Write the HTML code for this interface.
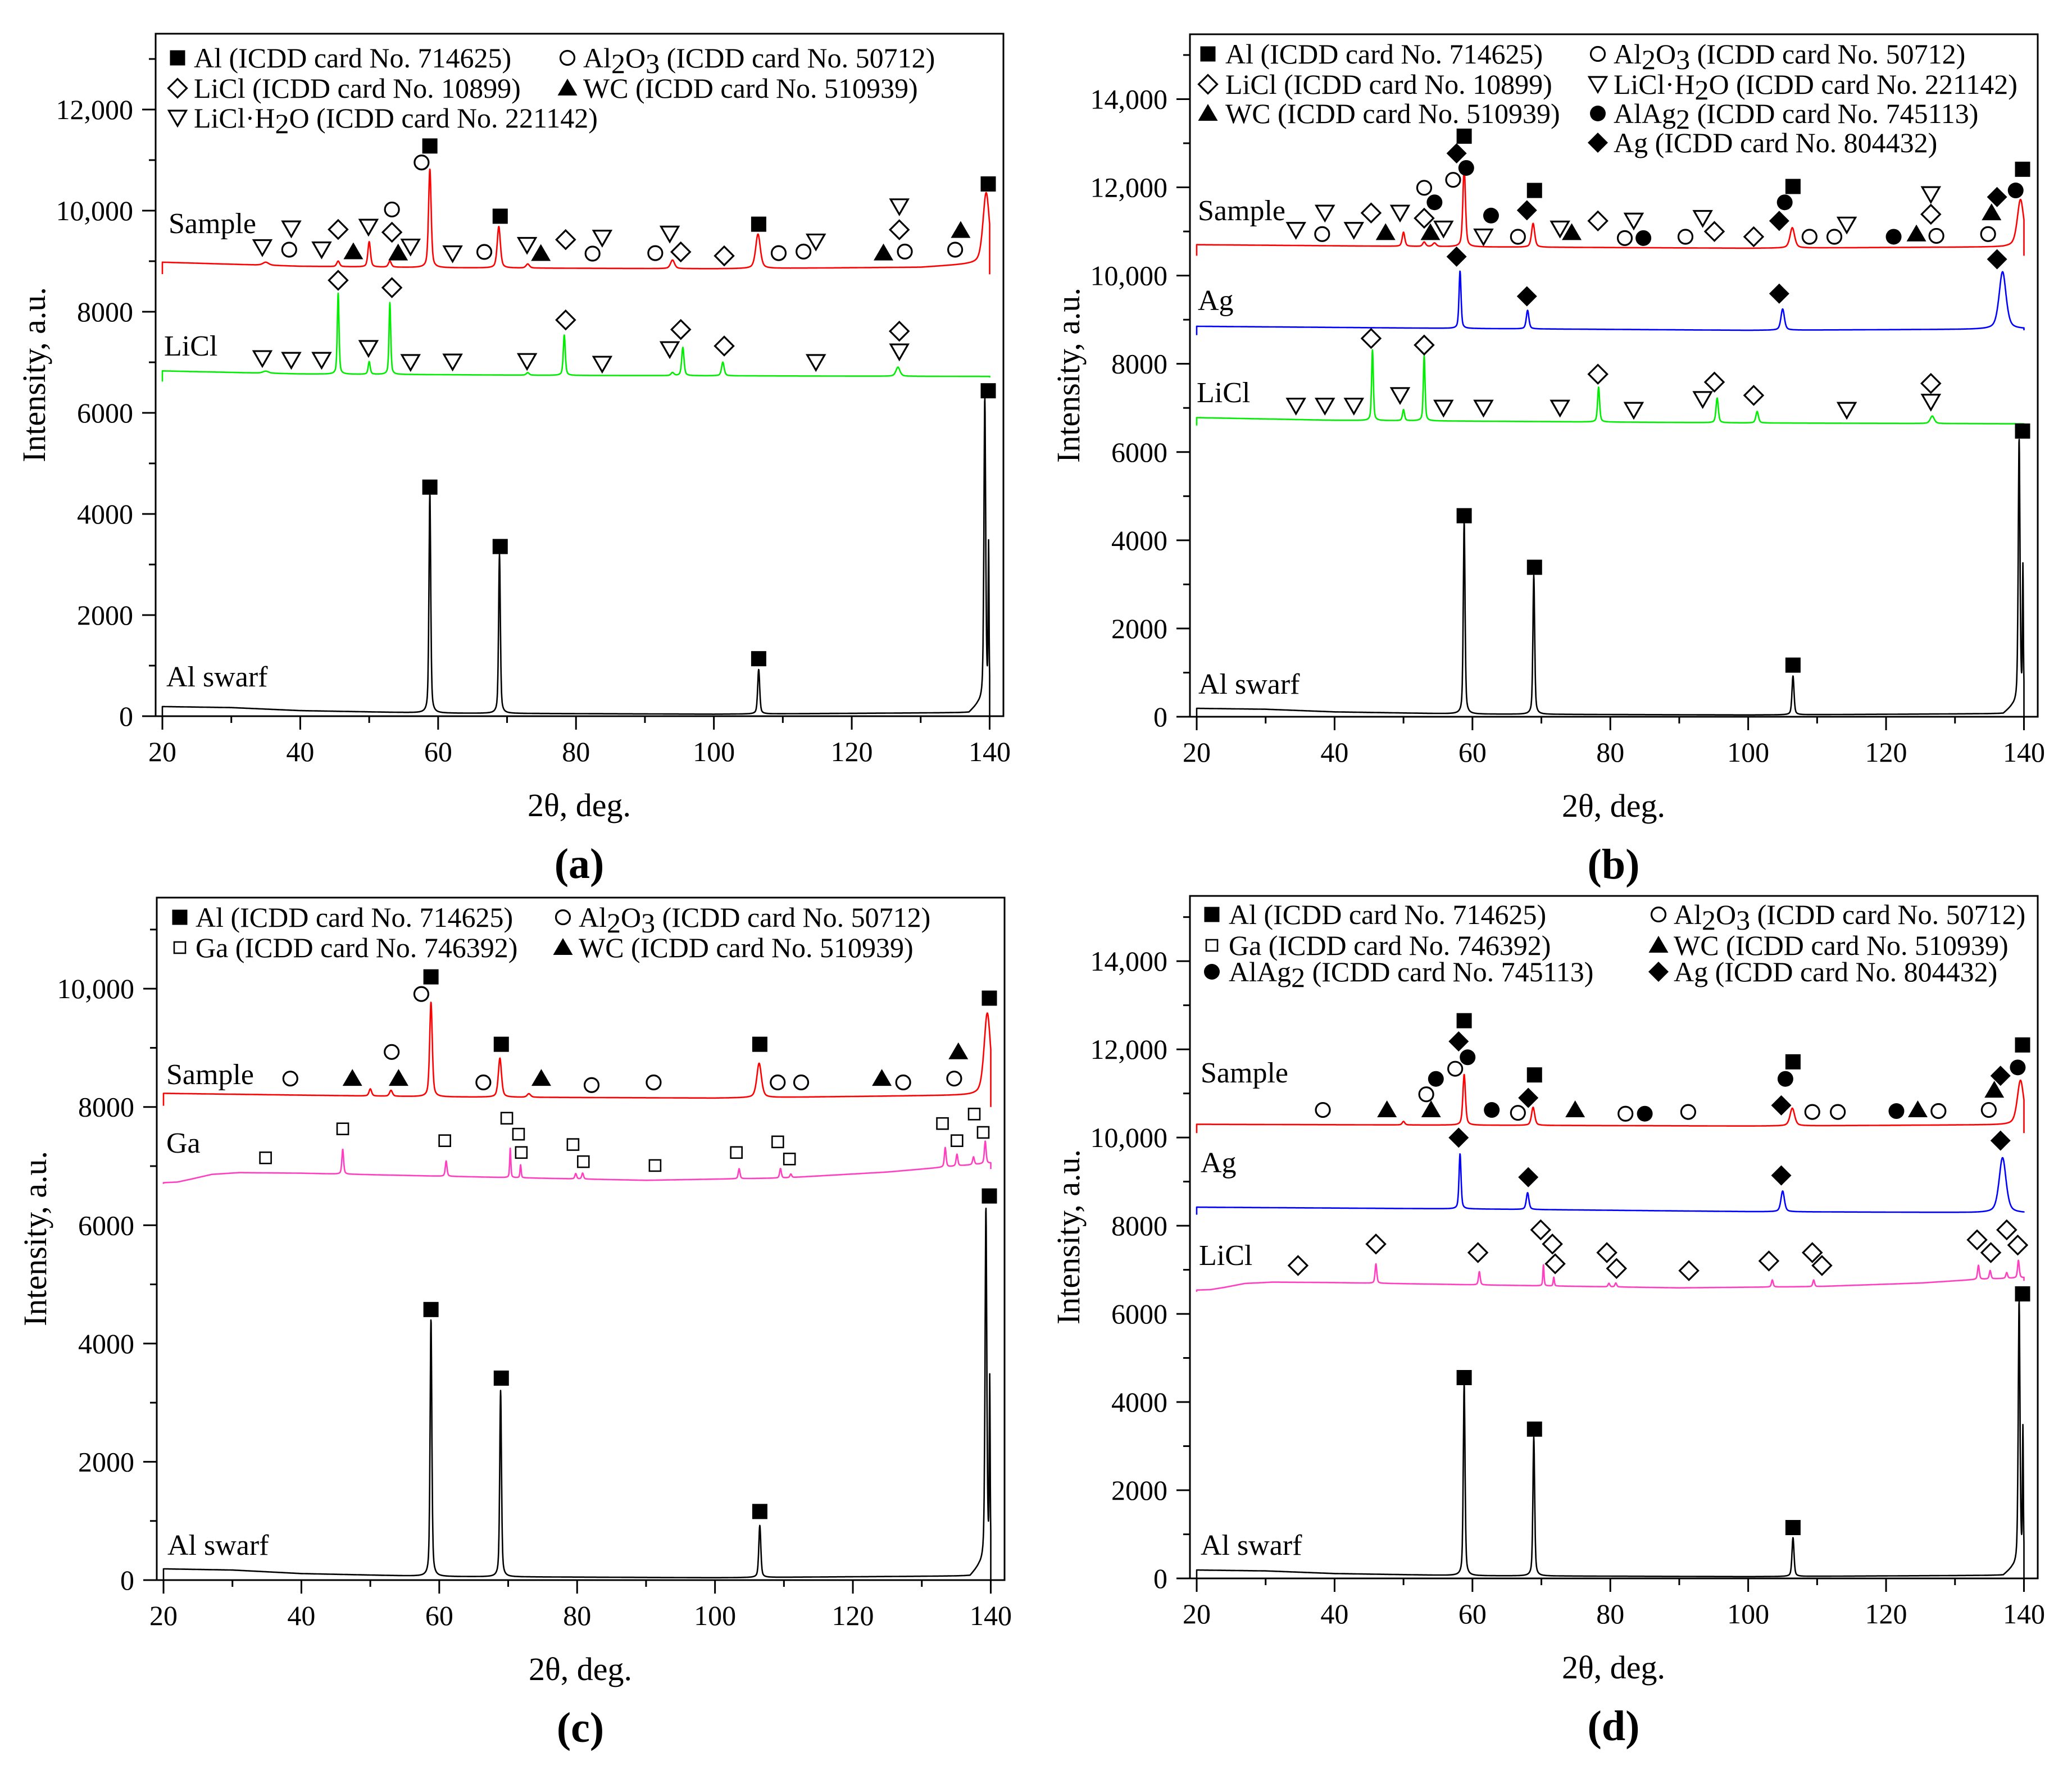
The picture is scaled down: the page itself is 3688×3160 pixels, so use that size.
<!DOCTYPE html>
<html><head><meta charset="utf-8"><title>XRD patterns</title>
<style>
html,body{margin:0;padding:0;background:#fff;}
svg{display:block;font-family:"Liberation Serif","Times New Roman",serif;}
svg text{font-family:"Liberation Serif","Times New Roman",serif;fill:#000;}
</style></head>
<body>
<svg id="fig" xmlns="http://www.w3.org/2000/svg" width="3688" height="3160" viewBox="0 0 3688 3160" font-family="Liberation Serif, Times New Roman, serif"></svg>
<script>
// ---------- shared axis data ----------
const xTicks = [20,40,60,80,100,120,140];
const xMinorTicks = [30,50,70,90,110,130];
const xTickLabels = ['20','40','60','80','100','120','140'];

// ---------- panel (a) data ----------
const aYTicks = [0,2000,4000,6000,8000,10000,12000];
const aYTickLabels = ['0','2000','4000','6000','8000','10,000','12,000'];
const aSampleBase = [[20,8980],[40,8900],[60,8870],[100,8850],[130,8880],[137,8940],[140,8960]];
const aSamplePeaks = [[35,60,1],[45.5,110,.5],[50,500,.45],[53,120,.5],[58.8,1950,.45],[68.8,820,.55],[73,80,.6],[94,170,.7],[106.4,680,.8],[139.5,1400,1.1]];
const aSampleEnds = [8745,8740];
const aLiclBase = [[20,6830],[40,6770],[80,6740],[140,6720]];
const aLiclPeaks = [[35,40,1],[45.5,1600,.3],[50,250,.35],[53,1420,.3],[73,50,.5],[78.3,800,.35],[94,60,.5],[95.5,560,.4],[101.3,270,.45],[126.7,180,.7]];
const aLiclEnds = [6620,6700];
const aSwarfBase = [[20,190],[30,170],[40,110],[60,60],[100,40],[137,70],[138.3,230],[139,280]];
const aSwarfPeaks = [[58.8,4350,.3],[68.9,3150,.3],[106.5,880,.35],[139.3,6000,.3],[139.85,3000,.15]];
const aSwarfEnds = [0,0];
const aMarkers = [
 ['sq',58.8,11279],['sq',69.0,9890],['sq',106.5,9732],['sq',139.8,10528],
 ['sq',58.8,4531],['sq',69.0,3356],['sq',106.5,1137],['sq',139.8,6437],
 ['oc',57.6,10953],['oc',53.3,10023],['oc',38.4,9228],['oc',66.7,9183],['oc',82.4,9150],['oc',91.5,9160],['oc',109.4,9160],['oc',113.0,9190],['oc',127.7,9190],['oc',135.0,9228],
 ['od',45.5,9628],['od',53.3,9572],['od',78.5,9427],['od',95.2,9183],['od',101.5,9105],['od',126.9,9622],
 ['od',45.5,8622],['od',53.3,8477],['od',78.5,7837],['od',95.2,7648],['od',101.5,7322],['od',126.9,7615],
 ['td',34.5,9272],['td',38.7,9643],['td',43.1,9228],['td',49.9,9676],['td',56.0,9284],['td',62.1,9150],['td',72.9,9317],['td',83.8,9460],['td',93.6,9540],['td',114.8,9384],['td',126.9,10080],
 ['td',34.5,7077],['td',38.7,7043],['td',43.1,7043],['td',49.9,7278],['td',56.0,7000],['td',62.1,7010],['td',72.9,7020],['td',83.8,6966],['td',93.6,7255],['td',114.8,7000],['td',126.9,7210],
 ['tu',47.7,9183],['tu',54.2,9160],['tu',74.9,9150],['tu',124.6,9160],['tu',135.8,9605]
];

// ---------- panel (b) data ----------
const bYTicks = [0,2000,4000,6000,8000,10000,12000,14000];
const bYTickLabels = ['0','2000','4000','6000','8000','10,000','12,000','14,000'];
const bSampleBase = [[20,10700],[60,10650],[100,10620],[137,10650],[140,10680]];
const bSamplePeaks = [[50,320,.45],[53,100,.5],[54.5,80,.6],[58.8,1800,.45],[68.8,540,.55],[106.4,460,.8],[139.5,1050,1.1]];
const bSampleEnds = [10450,10450];
const bAgBase = [[20,8850],[60,8800],[100,8760],[130,8780],[140,8790]];
const bAgPeaks = [[58.2,1300,.35],[68,420,.45],[105,480,.6],[136.9,1300,1.2]];
const bAgEnds = [8650,8760];
const bLiclBase = [[20,6780],[40,6720],[100,6660],[140,6640]];
const bLiclPeaks = [[45.5,1600,.3],[50,250,.35],[53,1480,.3],[78.3,790,.35],[95.5,560,.4],[101.3,260,.45],[126.7,170,.7]];
const bLiclEnds = [6600,6620];
const bSwarfBase = [[20,190],[30,170],[40,110],[60,60],[100,40],[137,70],[138.3,230],[139,280]];
const bSwarfPeaks = [[58.8,4350,.3],[68.9,3150,.3],[106.5,880,.35],[139.3,6000,.3],[139.85,3000,.15]];
const bSwarfEnds = [0,0];
const bMarkers = [
 ['sq',58.8,13160],['sq',69.0,11930],['sq',106.5,12020],['sq',139.8,12410],
 ['sq',58.8,4557],['sq',69.0,3388],['sq',106.5,1170],['sq',139.8,6476],
 ['oc',53.0,11990],['oc',57.2,12170],['oc',38.2,10940],['oc',66.6,10880],['oc',82.1,10850],['oc',90.9,10880],['oc',108.9,10880],['oc',112.5,10880],['oc',127.3,10900],['oc',134.8,10940],
 ['fc',54.5,11660],['fc',59.1,12440],['fc',62.7,11360],['fc',84.8,10850],['fc',105.3,11660],['fc',121.1,10880],['fc',138.8,11930],
 ['od',45.3,11420],['od',53.0,11300],['od',78.2,11240],['od',95.1,11000],['od',100.8,10880],['od',126.5,11390],
 ['od',45.3,8575],['od',53.0,8425],['od',78.2,7765],['od',95.1,7585],['od',100.8,7285],['od',126.5,7555],
 ['fd',57.7,12770],['fd',67.9,11480],['fd',104.5,11240],['fd',136.1,11780],
 ['fd',57.7,10430],['fd',67.9,9530],['fd',104.5,9590],['fd',136.1,10370],
 ['td',34.4,11030],['td',38.6,11420],['td',42.8,11030],['td',49.5,11420],['td',55.8,11060],['td',61.6,10880],['td',72.7,11060],['td',83.4,11240],['td',93.4,11300],['td',114.3,11150],['td',126.5,11840],
 ['td',34.4,7045],['td',38.6,7045],['td',42.8,7045],['td',49.5,7285],['td',55.8,7000],['td',61.6,7000],['td',72.7,7000],['td',83.4,6950],['td',93.4,7195],['td',114.3,6950],['td',126.5,7135],
 ['tu',47.4,10970],['tu',53.9,10970],['tu',74.4,10970],['tu',124.4,10940],['tu',135.3,11420]
];

// ---------- panel (c) data ----------
const cYTicks = [0,2000,4000,6000,8000,10000];
const cYTickLabels = ['0','2000','4000','6000','8000','10,000'];
const cSampleBase = [[20,8230],[60,8170],[100,8150],[137,8200],[140,8210]];
const cSamplePeaks = [[50,120,.45],[53,100,.5],[58.8,1600,.45],[68.8,660,.55],[73,60,.6],[106.4,580,.8],[139.5,1380,1.1]];
const cSampleEnds = [8020,8000];
const cGaBase = [[20,6720],[22,6730],[24,6780],[27,6860],[31,6890],[40,6880],[60,6830],[90,6760],[110,6800],[125,6900],[133,6980],[140,7050]];
const cGaPeaks = [[46,420,.3],[61,260,.3],[70.3,500,.2],[71.8,220,.2],[79.8,90,.3],[80.8,100,.3],[103.5,170,.3],[109.5,160,.3],[111,60,.3],[133.4,330,.3],[135.1,200,.3],[137.5,130,.3],[139.2,380,.3]];
const cGaEnds = [6700,6950];
const cSwarfBase = [[20,190],[30,170],[40,110],[60,60],[100,40],[137,70],[138.3,230],[139,280]];
const cSwarfPeaks = [[58.8,4350,.3],[68.9,3150,.3],[106.5,880,.35],[139.3,6000,.3],[139.85,3000,.15]];
const cSwarfEnds = [0,0];
const cMarkers = [
 ['sq',58.8,10200],['sq',69.0,9060],['sq',106.5,9060],['sq',139.8,9840],
 ['sq',58.8,4575],['sq',69.0,3415],['sq',106.5,1160],['sq',139.8,6495],
 ['oc',38.4,8480],['oc',53.1,8930],['oc',57.4,9910],['oc',66.4,8415],['oc',82.1,8370],['oc',91.1,8415],['oc',109.1,8415],['oc',112.5,8415],['oc',127.3,8415],['oc',134.7,8480],
 ['tu',47.4,8480],['tu',54.1,8480],['tu',74.8,8480],['tu',124.2,8480],['tu',135.3,8930],
 ['osq',34.8,7140],['osq',46.0,7630],['osq',60.8,7430],['osq',69.8,7810],['osq',71.5,7540],['osq',71.9,7230],['osq',79.4,7365],['osq',80.9,7075],['osq',91.3,7010],['osq',103.1,7230],['osq',109.1,7410],['osq',110.8,7120],['osq',133.0,7720],['osq',135.1,7430],['osq',137.6,7880],['osq',138.9,7570]
];

// ---------- panel (d) data ----------
const dYTicks = [0,2000,4000,6000,8000,10000,12000,14000];
const dYTickLabels = ['0','2000','4000','6000','8000','10,000','12,000','14,000'];
const dSampleBase = [[20,10300],[60,10280],[100,10260],[137,10290],[140,10300]];
const dSamplePeaks = [[50,80,.45],[58.8,1150,.45],[68.8,410,.55],[106.4,400,.8],[139.5,1000,1.1]];
const dSampleEnds = [10100,10100];
const dAgBase = [[20,8420],[60,8380],[100,8320],[130,8300],[140,8290]];
const dAgPeaks = [[58.2,1250,.35],[68,380,.45],[105,470,.6],[136.9,1250,1.2]];
const dAgEnds = [8250,8300];
const dLiclBase = [[20,6540],[22,6550],[24,6600],[27,6690],[31,6720],[40,6710],[60,6660],[90,6590],[110,6620],[125,6700],[133,6780],[140,6820]];
const dLiclPeaks = [[46,440,.3],[61,300,.3],[70.3,480,.2],[71.8,200,.2],[79.8,80,.3],[80.8,90,.3],[103.5,160,.3],[109.5,150,.3],[133.4,320,.3],[135.1,190,.3],[137.5,130,.3],[139.2,400,.3]];
const dLiclEnds = [6500,6750];
const dSwarfBase = [[20,190],[30,170],[40,110],[60,60],[100,40],[137,70],[138.3,230],[139,280]];
const dSwarfPeaks = [[58.8,4350,.3],[68.9,3150,.3],[106.5,880,.35],[139.3,6000,.3],[139.85,3000,.15]];
const dSwarfEnds = [0,0];
const dMarkers = [
 ['sq',58.8,12650],['sq',69.0,11420],['sq',106.5,11717],['sq',139.8,12100],
 ['sq',58.8,4555],['sq',69.0,3386],['sq',106.5,1153],['sq',139.8,6454],
 ['oc',38.3,10625],['oc',53.3,10980],['oc',57.5,11560],['oc',66.6,10560],['oc',82.2,10540],['oc',91.3,10580],['oc',109.3,10580],['oc',113.0,10580],['oc',127.6,10600],['oc',134.9,10625],
 ['fc',54.7,11330],['fc',59.3,11820],['fc',62.8,10625],['fc',85.0,10540],['fc',105.4,11330],['fc',121.5,10600],['fc',139.1,11590],
 ['tu',47.6,10625],['tu',54.0,10625],['tu',74.9,10625],['tu',124.6,10625],['tu',135.7,11070],
 ['fd',58.0,12180],['fd',68.1,10900],['fd',104.8,10730],['fd',136.6,11400],
 ['fd',58.0,9997],['fd',68.1,9100],['fd',104.8,9140],['fd',136.6,9930],
 ['od',34.7,7096],['od',46.0,7584],['od',60.8,7390],['od',69.9,7905],['od',71.6,7584],['od',72.0,7137],['od',79.5,7390],['od',80.9,7030],['od',91.4,6980],['od',103.0,7200],['od',109.3,7390],['od',110.7,7096],['od',133.2,7680],['od',135.2,7390],['od',137.5,7905],['od',139.1,7560]
];

// ---------- rendering ----------
const NS = 'http://www.w3.org/2000/svg';
const FONT = '"Liberation Serif", "Times New Roman", serif';
const svg = document.getElementById('fig');
function el(tag, attrs, parent){
  const e = document.createElementNS(NS, tag);
  for (const k in attrs) e.setAttribute(k, attrs[k]);
  if (tag === 'text') e.style.fontFamily = FONT;
  (parent || svg).appendChild(e);
  return e;
}
function baseAt(base, d){
  if (d <= base[0][0]) return base[0][1];
  for (let i = 1; i < base.length; i++){
    if (d <= base[i][0]){
      const t = (d - base[i-1][0]) / (base[i][0] - base[i-1][0]);
      return base[i-1][1] + t * (base[i][1] - base[i-1][1]);
    }
  }
  return base[base.length-1][1];
}
function curveVal(base, peaks, d){
  let v = baseAt(base, d);
  for (const p of peaks){
    const u = (d - p[0]) / (p[2] / 2);
    v += p[1] * (0.5 / (1 + u*u) + 0.5 * Math.exp(-0.693 * u * u));
  }
  return v;
}
function makePanel(cfg){
  const g = el('g', {transform: 'translate(' + cfg.x + ',' + cfg.y + ')'});
  
  
  const W = 1509, H = 1215, XMIN = 19.02, XMAX = 142.0;
  const sx = d => (d - XMIN) / (XMAX - XMIN) * W;
  const sy = v => H - v / cfg.ymax * H;
  for (const c of cfg.curves){
    let dstr = 'M' + sx(20).toFixed(1) + ',' + sy(c.ends[0]).toFixed(1);
    for (let d = 20; d <= 140.0001; d += 0.03){
      dstr += 'L' + sx(d).toFixed(1) + ',' + sy(curveVal(c.base, c.peaks, d)).toFixed(1);
    }
    dstr += 'L' + sx(140).toFixed(1) + ',' + sy(c.ends[1]).toFixed(1);
    const p = el('path', {d: dstr, fill: 'none', stroke: c.color, 'stroke-width': 2.6, 'stroke-linejoin': 'round'}, g);
    
    
  }
  const fr = el('rect', {x: 0, y: 0, width: W, height: H, fill: 'none', stroke: '#000', 'stroke-width': 3}, g);
  
  
  xTicks.forEach((t, i) => {
    const tk = el('line', {x1: sx(t), x2: sx(t), y1: H, y2: H + 24, stroke: '#000', 'stroke-width': 3}, g);
    
    
    const tl = el('text', {x: sx(t), y: H + 80, 'text-anchor': 'middle', 'font-size': 50}, g);
    
    
    tl.textContent = xTickLabels[i];
  });
  xMinorTicks.forEach(t => {
    const tk = el('line', {x1: sx(t), x2: sx(t), y1: H, y2: H + 12, stroke: '#000', 'stroke-width': 3}, g);
    
    
  });
  cfg.yTicks.forEach((t, i) => {
    const tk = el('line', {x1: -24, x2: 0, y1: sy(t), y2: sy(t), stroke: '#000', 'stroke-width': 3}, g);
    
    
    const tl = el('text', {x: -40, y: sy(t) + 17, 'text-anchor': 'end', 'font-size': 50}, g);
    
    
    tl.textContent = cfg.yLabels[i];
    const mv = t + 1000;
    if (sy(mv) > 0){
      const mk = el('line', {x1: -12, x2: 0, y1: sy(mv), y2: sy(mv), stroke: '#000', 'stroke-width': 3}, g);
      
      
    }
  });
  for (const m of cfg.markers){
    const s = drawSym(g, m[0], sx(m[1]), sy(m[2]));
    
    
  }
  for (const l of cfg.labels){
    const t = el('text', {x: l[1] - cfg.x, y: l[2] - cfg.y, 'font-size': 52}, g);
    
    
    t.textContent = l[0];
  }
  for (const e of cfg.legend){
    const s = drawSym(svg, e[0], e[1], e[3]);
    
    
    const t = el('text', {x: e[2], y: e[3] + 17, 'font-size': 50});
    
    
    e[4].forEach(part => {
      const ts = el('tspan', part[1] ? {dy: part[1]} : {}, t);
      ts.textContent = part[0];
    });
  }
  const yt = el('text', {x: 0, y: 0, 'font-size': 58, 'text-anchor': 'middle', transform: 'translate(' + (cfg.x - 197) + ',' + (cfg.y + 607) + ') rotate(-90)'});
  
  
  yt.textContent = 'Intensity, a.u.';
  const xt = el('text', {x: cfg.x + 754, y: cfg.y + H + 178, 'font-size': 58, 'text-anchor': 'middle'});
  
  
  xt.textContent = '2\u03B8, deg.';
  const pl = el('text', {x: cfg.x + 754, y: cfg.y + H + 288, 'font-size': 76, 'font-weight': 'bold', 'text-anchor': 'middle'});
  
  
  pl.textContent = '(' + cfg.id + ')';
}
function drawSym(parent, type, x, y){
  let e;
  if (type === 'sq') e = el('rect', {x: x-13.5, y: y-13.5, width: 27, height: 27, fill: '#000'}, parent);
  else if (type === 'osq') e = el('rect', {x: x-10, y: y-10, width: 20, height: 20, fill: 'none', stroke: '#000', 'stroke-width': 2.6}, parent);
  else if (type === 'oc') e = el('circle', {cx: x, cy: y, r: 12.5, fill: 'none', stroke: '#000', 'stroke-width': 3.2}, parent);
  else if (type === 'fc') e = el('circle', {cx: x, cy: y, r: 14, fill: '#000'}, parent);
  else if (type === 'od') e = el('path', {d: 'M' + x + ',' + (y-16.5) + 'L' + (x+16.5) + ',' + y + 'L' + x + ',' + (y+16.5) + 'L' + (x-16.5) + ',' + y + 'Z', fill: 'none', stroke: '#000', 'stroke-width': 3.2}, parent);
  else if (type === 'fd') e = el('path', {d: 'M' + x + ',' + (y-18) + 'L' + (x+18) + ',' + y + 'L' + x + ',' + (y+18) + 'L' + (x-18) + ',' + y + 'Z', fill: '#000'}, parent);
  else if (type === 'tu') e = el('path', {d: 'M' + x + ',' + (y-17) + 'L' + (x+17.5) + ',' + (y+13) + 'L' + (x-17.5) + ',' + (y+13) + 'Z', fill: '#000'}, parent);
  else e = el('path', {d: 'M' + (x-15.5) + ',' + (y-13) + 'L' + (x+15.5) + ',' + (y-13) + 'L' + x + ',' + (y+14) + 'Z', fill: 'none', stroke: '#000', 'stroke-width': 3.2}, parent);
  return e;
}
const AL = [['Al (ICDD card No. 714625)']];
const AL2O3 = [['Al'],['2',10],['O',-10],['3',10],[' (ICDD card No. 50712)',-10]];
const LICL = [['LiCl (ICDD card No. 10899)']];
const WC = [['WC (ICDD card No. 510939)']];
const LICLH = [['LiCl\u00B7H'],['2',10],['O (ICDD card No. 221142)',-10]];
const GA = [['Ga (ICDD card No. 746392)']];
const ALAG = [['AlAg'],['2',10],[' (ICDD card No. 745113)',-10]];
const AG = [['Ag (ICDD card No. 804432)']];

makePanel({id:'a', x:277, y:60, ymax:13500, yTicks:aYTicks, yLabels:aYTickLabels, markers:aMarkers,
  curves:[{name:'sample',color:'#ff0000',base:aSampleBase,peaks:aSamplePeaks,ends:aSampleEnds},
          {name:'licl',color:'#00ee00',base:aLiclBase,peaks:aLiclPeaks,ends:aLiclEnds},
          {name:'al-swarf',color:'#000',base:aSwarfBase,peaks:aSwarfPeaks,ends:aSwarfEnds}],
  labels:[['Sample',300,415],['LiCl',292,633],['Al swarf',296,1222]],
  legend:[['sq',316,345,103,AL],['oc',1010,1038,103,AL2O3],['od',316,345,157,LICL],['tu',1010,1038,157,WC],['td',316,345,210,LICLH]]});
makePanel({id:'b', x:2118, y:61, ymax:15470, yTicks:bYTicks, yLabels:bYTickLabels, markers:bMarkers,
  curves:[{name:'sample',color:'#ff0000',base:bSampleBase,peaks:bSamplePeaks,ends:bSampleEnds},
          {name:'ag',color:'#0000ff',base:bAgBase,peaks:bAgPeaks,ends:bAgEnds},
          {name:'licl',color:'#00ee00',base:bLiclBase,peaks:bLiclPeaks,ends:bLiclEnds},
          {name:'al-swarf',color:'#000',base:bSwarfBase,peaks:bSwarfPeaks,ends:bSwarfEnds}],
  labels:[['Sample',2132,392],['Ag',2132,552],['LiCl',2130,716],['Al swarf',2133,1235]],
  legend:[['sq',2150,2181,96,AL],['oc',2844,2872,96,AL2O3],['od',2150,2181,150,LICL],['td',2844,2872,150,LICLH],
          ['tu',2150,2181,202,WC],['fc',2844,2872,202,ALAG],['fd',2844,2872,254,AG]]});
makePanel({id:'c', x:279, y:1598, ymax:11540, yTicks:cYTicks, yLabels:cYTickLabels, markers:cMarkers,
  curves:[{name:'sample',color:'#ff0000',base:cSampleBase,peaks:cSamplePeaks,ends:cSampleEnds},
          {name:'ga',color:'#ff3fc0',base:cGaBase,peaks:cGaPeaks,ends:cGaEnds},
          {name:'al-swarf',color:'#000',base:cSwarfBase,peaks:cSwarfPeaks,ends:cSwarfEnds}],
  labels:[['Sample',296,1930],['Ga',296,2052],['Al swarf',298,2768]],
  legend:[['sq',320,348,1633,AL],['oc',1002,1030,1633,AL2O3],['osq',320,348,1687,GA],['tu',1002,1030,1687,WC]]});
makePanel({id:'d', x:2118, y:1595, ymax:15480, yTicks:dYTicks, yLabels:dYTickLabels, markers:dMarkers,
  curves:[{name:'sample',color:'#ff0000',base:dSampleBase,peaks:dSamplePeaks,ends:dSampleEnds},
          {name:'ag',color:'#0000ff',base:dAgBase,peaks:dAgPeaks,ends:dAgEnds},
          {name:'licl',color:'#ff3fc0',base:dLiclBase,peaks:dLiclPeaks,ends:dLiclEnds},
          {name:'al-swarf',color:'#000',base:dSwarfBase,peaks:dSwarfPeaks,ends:dSwarfEnds}],
  labels:[['Sample',2137,1927],['Ag',2137,2087],['LiCl',2134,2252],['Al swarf',2137,2768]],
  legend:[['sq',2157,2187,1628,AL],['oc',2952,2979,1628,AL2O3],['osq',2157,2187,1683,GA],['tu',2952,2979,1683,WC],
          ['fc',2157,2187,1730,ALAG],['fd',2952,2979,1730,AG]]});
</script>
</body></html>
